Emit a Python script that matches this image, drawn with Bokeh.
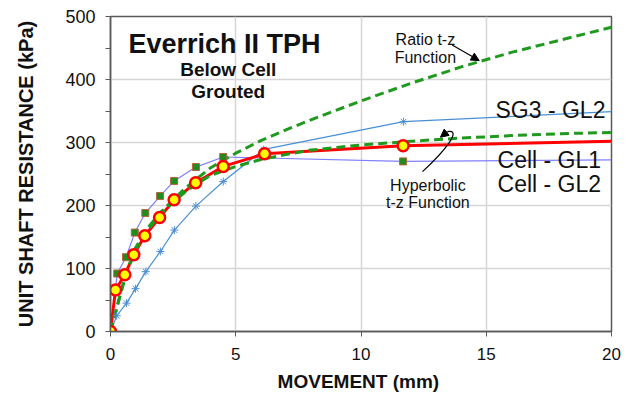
from bokeh.plotting import figure
from bokeh.models import Label, Arrow, NormalHead, FixedTicker, Range1d
from bokeh.embed import file_html
from bokeh.resources import INLINE

# Measured shaft resistance vs. movement (last entry of each list carries the trend to 20 mm)
gl1_x = [0, 0.2, 0.57, 0.93, 1.37, 1.96, 2.54, 3.4, 4.5, 6.15, 11.68, 20]
gl1_y = [0, 66, 90, 122, 152, 181, 209, 236, 262, 282, 295, 302]

gl2_x = [0, 0.27, 0.62, 0.97, 1.39, 1.98, 2.54, 3.41, 4.5, 11.68, 20]
gl2_y = [0, 92, 118, 157, 188, 215, 239, 261, 277, 270, 272.5]

sg3_x = [0, 0.25, 0.64, 1.0, 1.41, 1.99, 2.55, 3.41, 4.5, 6.12, 11.7, 20]
sg3_y = [0, 25, 45, 68, 95, 127, 161, 199, 238, 289, 333, 349]

# t-z model curves
fn_x = [0, 0.3, 0.6, 1, 1.5, 2, 2.5, 3, 3.5, 4, 5, 6, 7, 8, 10, 12, 14, 16, 18, 20]
ratio_y = [0, 45, 90, 133, 165, 189, 209, 228, 244, 260, 283, 303, 320, 336, 366, 394, 420, 443, 463, 483]
hyper_y = [0, 45, 88, 130, 162, 186, 205, 222, 236, 248, 262, 273, 281, 288, 296, 302, 307, 311, 314, 316]

x_ticks = [0, 5, 10, 15, 20]
y_ticks = [0, 100, 200, 300, 400, 500]
y_minor = [50, 150, 250, 350, 450]

FONT = "Liberation Sans"
INK = "#111111"
FRAME = "#595959"

p = figure(width=632, height=394, x_range=Range1d(0, 20), y_range=Range1d(0, 500),
           output_backend="svg", toolbar_location=None,
           min_border_left=110, min_border_right=21, min_border_top=16, min_border_bottom=63)

p.background_fill_color = "white"
p.border_fill_color = "white"
p.outline_line_color = FRAME
p.outline_line_width = 1.5

p.xaxis.ticker = FixedTicker(ticks=x_ticks)
p.yaxis.ticker = FixedTicker(ticks=y_ticks, minor_ticks=y_minor)

for ax in (p.xaxis[0], p.yaxis[0]):
    ax.axis_line_color = FRAME
    ax.axis_line_width = 1.5
    ax.major_tick_line_color = FRAME
    ax.minor_tick_line_color = FRAME
    ax.major_tick_in = 0
    ax.major_tick_out = 5
    ax.minor_tick_in = 0
    ax.major_label_text_font = FONT
    ax.major_label_text_color = INK
    ax.axis_label_text_font = FONT
    ax.axis_label_text_font_style = "bold"
    ax.axis_label_text_color = INK

p.xaxis.major_label_text_font_size = "17px"
p.yaxis.major_label_text_font_size = "18px"
p.xaxis.axis_label_text_font_size = "19px"
p.yaxis.axis_label_text_font_size = "20px"
p.xaxis.minor_tick_out = 0
p.yaxis.minor_tick_out = 5
p.xaxis.major_label_standoff = 11
p.yaxis.major_label_standoff = 10
p.xaxis.axis_label = "MOVEMENT  (mm)"
p.yaxis.axis_label = "UNIT SHAFT RESISTANCE (kPa)"
p.xaxis.axis_label_standoff = 8
p.yaxis.axis_label_standoff = 25

p.xgrid.grid_line_color = "#d6d6d6"
p.ygrid.grid_line_color = "#d6d6d6"
p.xgrid.grid_line_width = 1.5
p.ygrid.grid_line_width = 1.5

# measured series lines
p.line(gl2_x, gl2_y, line_color="#7f7fff", line_width=1.2)
p.line(sg3_x, sg3_y, line_color="#4a8fd6", line_width=1.2)
p.line(gl1_x, gl1_y, line_color="#ff0000", line_width=3)

# model curves
p.line(fn_x, ratio_y, line_color="#1f9a1f", line_width=3, line_dash="9 5")
p.line(fn_x, hyper_y, line_color="#1f9a1f", line_width=3, line_dash="9 5")

# markers
p.scatter(gl2_x[:-1], gl2_y[:-1], marker="square", size=7,
          fill_color="#1e8c1e", line_color="#b4643c", line_width=1)
p.scatter(sg3_x[:-1], sg3_y[:-1], marker="asterisk", size=8,
          line_color="#4a8fd6", line_width=1)
p.scatter(gl1_x[:-1], gl1_y[:-1], marker="circle", size=11,
          fill_color="#ffff00", line_color="#ff0000", line_width=2.5)


def add_text(x, y, text, size, bold=False, align="left"):
    p.add_layout(Label(x=x, y=y, text=text, text_font=FONT, text_font_size=size,
                       text_font_style="bold" if bold else "normal",
                       text_align=align, text_baseline="alphabetic", text_color=INK))


add_text(4.7, 456.5, "Everrich II  TPH", "27px", bold=True, align="center")
add_text(4.7, 415.5, "Below Cell", "19px", bold=True, align="center")
add_text(4.7, 380.5, "Grouted", "19px", bold=True, align="center")

add_text(12.57, 463, "Ratio t-z", "16px", align="center")
add_text(12.57, 434.5, "Function", "16px", align="center")

add_text(15.37, 352, "SG3 - GL2", "23px")
add_text(15.45, 272.3, "Cell - GL1", "23px")
add_text(15.45, 234.2, "Cell - GL2", "23px")

add_text(12.67, 231.5, "Hyperbolic", "16px", align="center")
add_text(12.67, 205, "t-z Function", "16px", align="center")

# pointer to the ratio curve
p.add_layout(Arrow(end=NormalHead(size=8, fill_color="black", line_color="black"),
                   x_start=13.64, y_start=454.6, x_end=14.72, y_end=430,
                   line_color="black", line_width=1.2))

# curled pointer to the hyperbolic curve
p.bezier(x0=12.455, y0=253.7, x1=13.45, y1=317.2,
         cx0=13.37, cy0=287.0, cx1=14.05, cy1=321.9,
         line_color="black", line_width=1.2)
p.add_layout(Arrow(end=NormalHead(size=8, fill_color="black", line_color="black"),
                   x_start=13.45, y_start=317.2, x_end=13.17, y_end=308.4,
                   line_color="black", line_width=1.2))

open("out.html", "w").write(file_html(p, INLINE))
